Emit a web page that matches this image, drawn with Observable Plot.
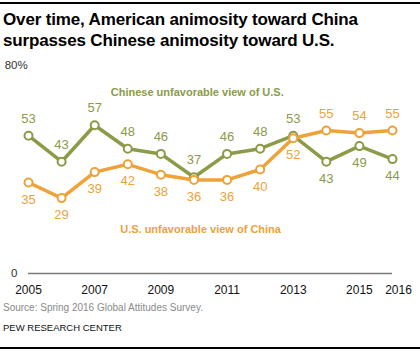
<!DOCTYPE html>
<html>
<head>
<meta charset="utf-8">
<script src="https://cdn.jsdelivr.net/npm/d3@7"></script>
<script src="https://cdn.jsdelivr.net/npm/@observablehq/plot@0.6"></script>
<style>
  html, body { margin: 0; padding: 0; background: #fff; }
  body { width: 420px; height: 354px; position: relative; overflow: hidden; font-family: "Liberation Sans", Arial, sans-serif; }
  .rule { position: absolute; left: 0; width: 420px; height: 2px; background: #000; }
  #title { position: absolute; left: 3px; top: 9px; font-size: 17px; font-weight: bold; line-height: 21px; color: #000; letter-spacing: -0.15px; }
  #chart { position: absolute; left: 0; top: 56px; }
  #source { position: absolute; left: 3px; top: 302px; font-size: 10px; color: #8a8a8a; }
  #credit { position: absolute; left: 3px; top: 322px; font-size: 9.5px; color: #111; font-weight: 500; }
</style>
</head>
<body>
<div class="rule" style="top:2px"></div>
<div id="title">Over time, American animosity toward China<br>surpasses Chinese animosity toward U.S.</div>
<div id="chart"></div>
<div id="source">Source: Spring 2016 Global Attitudes Survey.</div>
<div id="credit">PEW RESEARCH CENTER</div>
<div class="rule" style="top:347px"></div>
<script>
const years = [2005, 2006, 2007, 2008, 2009, 2010, 2011, 2012, 2013, 2014, 2015, 2016];
const chineseViewOfUS = [53, 43, 57, 48, 46, 37, 46, 48, 53, 43, 49, 44];
const usViewOfChina = [35, 29, 39, 42, 38, 36, 36, 40, 52, 55, 54, 55];
const xTicks = [2005, 2007, 2009, 2011, 2013, 2015, 2016];
const yTicks = [0, 80];
const seriesNames = ["Chinese unfavorable view of U.S.", "U.S. unfavorable view of China"];

const green = "#8b9b47";
const orange = "#eea23a";
const axisGray = "#7a7a7a";

const rows = (vals, other) => years.map((year, i) => ({year, value: vals[i], above: vals[i] >= other[i]}));
const cn = rows(chineseViewOfUS, usViewOfChina);
const us = rows(usViewOfChina, chineseViewOfUS);

const labelMarks = (data, color) => [
  Plot.text(data.filter(d => d.above), {x: "year", y: "value", text: d => String(d.value), dy: -17, fill: color, fontSize: 13}),
  Plot.text(data.filter(d => !d.above), {x: "year", y: "value", text: d => String(d.value), dy: 17, fill: color, fontSize: 13})
];

const chart = Plot.plot({
  width: 420,
  height: 242,
  marginLeft: 28,
  marginRight: 28,
  marginTop: 9,
  marginBottom: 25,
  style: {fontFamily: "Liberation Sans, Arial, sans-serif", background: "transparent"},
  x: {domain: [2005, 2016], axis: null},
  y: {domain: [0, 80], axis: null},
  marks: [
    Plot.ruleY([0], {stroke: axisGray, strokeWidth: 1.5}),
    Plot.text(yTicks, {y: d => d, frameAnchor: "left", dx: -11, textAnchor: "end", text: d => String(d), fill: "#333", fontSize: 11.5}),
    Plot.text(yTicks.filter(d => d > 0), {y: d => d, frameAnchor: "left", dx: -11, textAnchor: "start", text: () => "%", fill: "#333", fontSize: 11.5}),
    Plot.text(xTicks.filter(d => d !== 2016), {x: d => d, frameAnchor: "bottom", dy: 20, text: d => String(d), fill: "#111", fontSize: 12}),
    Plot.text(xTicks.filter(d => d === 2016), {x: d => d, frameAnchor: "bottom", dy: 20, dx: 6, text: d => String(d), fill: "#111", fontSize: 12}),
    Plot.line(cn, {x: "year", y: "value", stroke: green, strokeWidth: 3.5}),
    Plot.dot(cn, {x: "year", y: "value", r: 4, fill: "#fff", stroke: green, strokeWidth: 2}),
    Plot.line(us, {x: "year", y: "value", stroke: orange, strokeWidth: 3.5}),
    Plot.dot(us, {x: "year", y: "value", r: 4, fill: "#fff", stroke: orange, strokeWidth: 2}),
    ...labelMarks(cn, green),
    ...labelMarks(us, orange),
    Plot.text([seriesNames[0]], {x: 2010.1, y: 69.7, text: d => d, fill: green, fontWeight: "bold", fontSize: 11}),
    Plot.text([seriesNames[1]], {x: 2010.2, y: 16.9, text: d => d, fill: orange, fontWeight: "bold", fontSize: 11})
  ]
});
document.getElementById("chart").appendChild(chart);
</script>
</body>
</html>
